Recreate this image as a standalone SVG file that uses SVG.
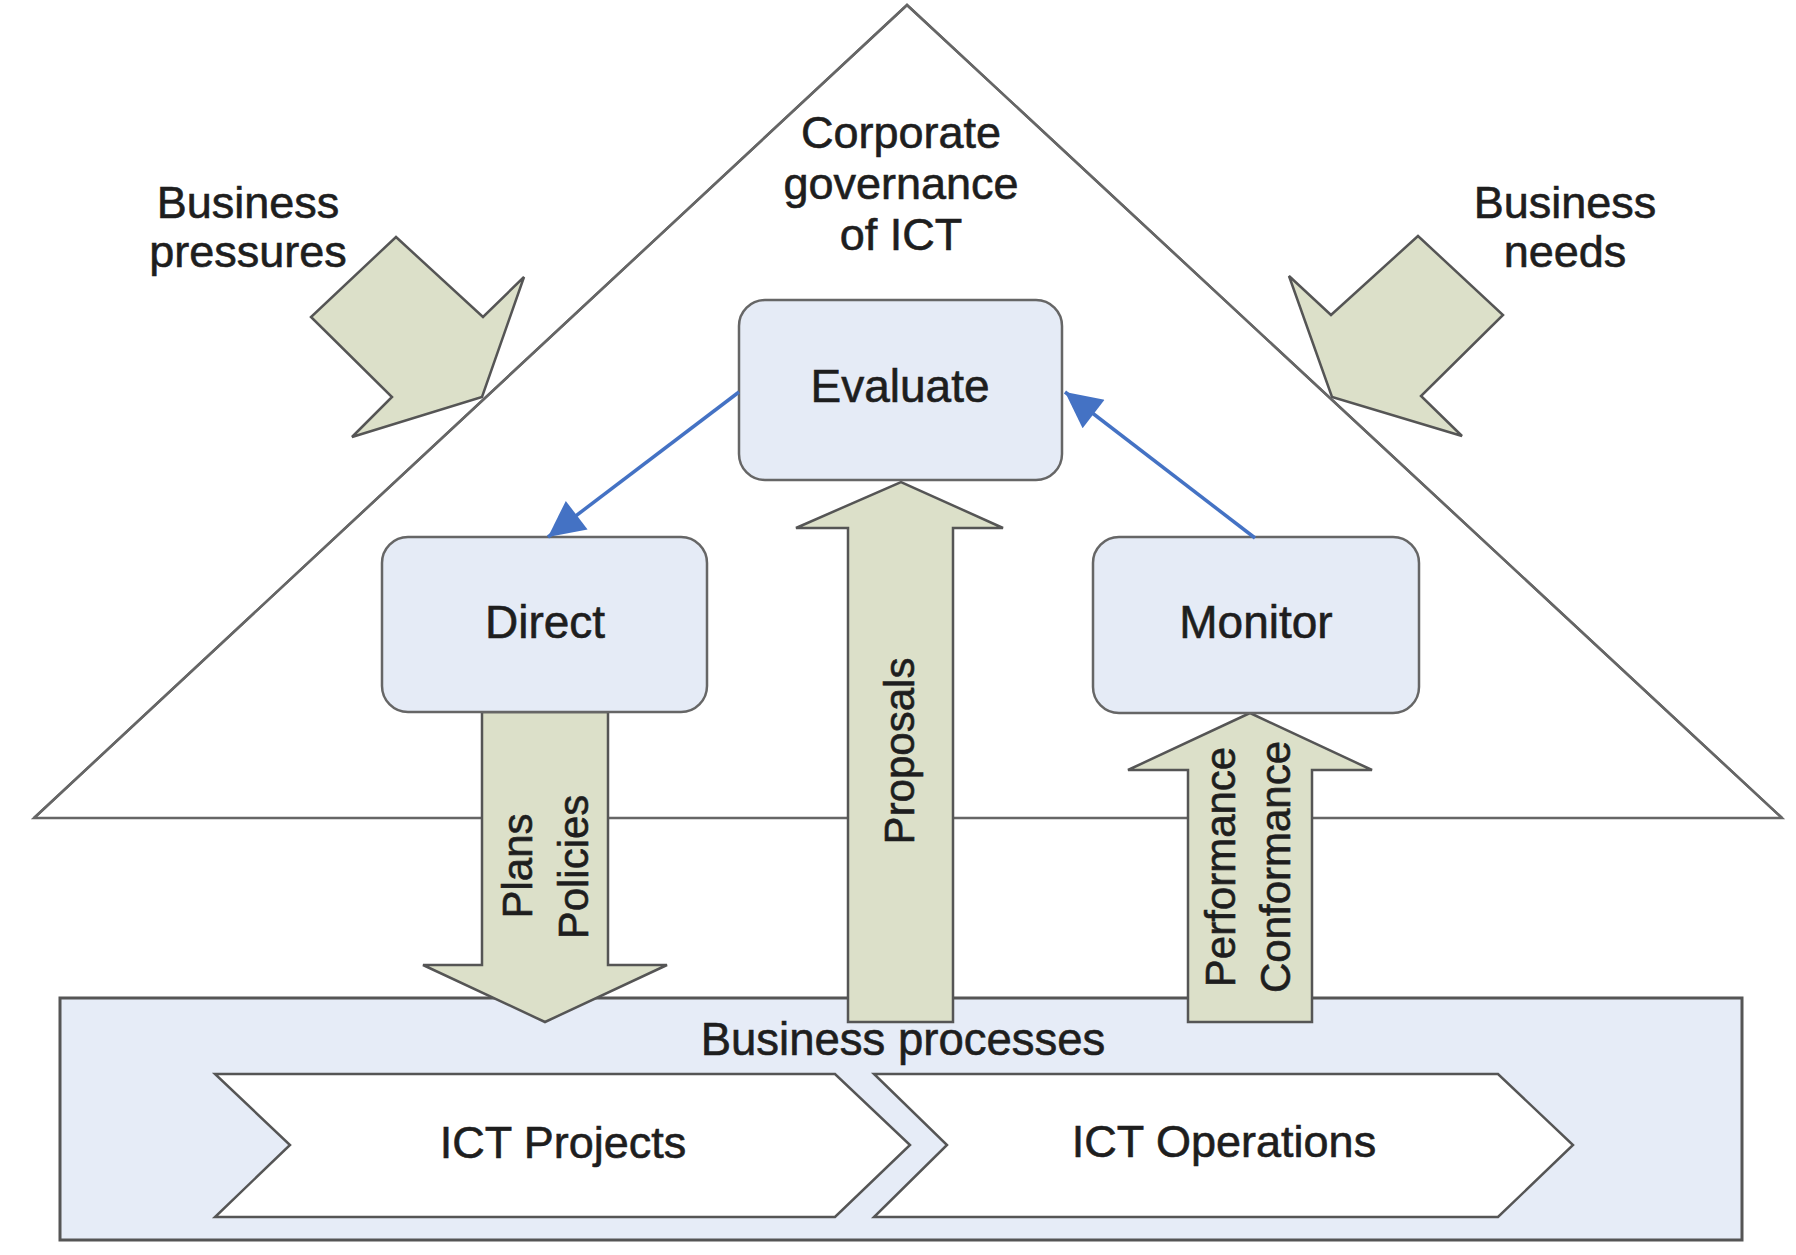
<svg xmlns="http://www.w3.org/2000/svg" width="1796" height="1255" viewBox="0 0 1796 1255">
<defs>
<style>
text{font-family:"Liberation Sans",Arial,Helvetica,sans-serif;fill:#1e1e1e;stroke:#1e1e1e;stroke-width:0.6;}
.lbl{font-size:45px;text-anchor:middle;}
.rot{font-size:42px;text-anchor:middle;}
.box{fill:#e5ebf6;stroke:#666;stroke-width:2.5;}
.blk{fill:#dce0c9;stroke:#555;stroke-width:2.5;stroke-linejoin:miter;}
.tri{fill:#fff;stroke:#666;stroke-width:2.5;}
.edge{fill:none;stroke:#4472c4;stroke-width:3.5;}
</style>
<marker id="ah" viewBox="0 0 10 10" refX="10" refY="5" markerWidth="44" markerHeight="36" markerUnits="userSpaceOnUse" orient="auto">
<path d="M0,0 L10,5 L0,10 z" fill="#4472c4"/>
</marker>
</defs>
<rect width="1796" height="1255" fill="#fff"/>

<g id="governance-triangle">
<polygon class="tri" points="907,5 1782,818 34,818"/>
</g>

<g id="business-pressures">
<polygon class="blk" points="396,237 483,317 524,277 482,397 352,437 392,397 311,317"/>
<text class="lbl" x="248" y="218">Business</text>
<text class="lbl" x="248" y="267">pressures</text>
</g>

<g id="business-needs">
<polygon class="blk" points="1418,236 1331,315 1289,276 1332,397 1462,436 1421,396 1503,315"/>
<text class="lbl" x="1565" y="218">Business</text>
<text class="lbl" x="1565" y="267">needs</text>
</g>

<polyline points="34,818 907,5 1782,818" fill="none" stroke="#666" stroke-width="2.5"/>

<g id="title">
<text class="lbl" x="901" y="148">Corporate</text>
<text class="lbl" x="901" y="199">governance</text>
<text class="lbl" x="901" y="250">of ICT</text>
</g>

<g id="business-processes">
<rect x="60" y="998" width="1682" height="242" fill="#e6ecf7" stroke="#555" stroke-width="3"/>
<text class="lbl" x="903" y="1055" style="font-size:45.5px">Business processes</text>
</g>

<g id="ict-projects">
<polygon points="215,1074 835,1074 910,1145 835,1217 215,1217 290,1145" fill="#fff" stroke="#555" stroke-width="2.5"/>
<text class="lbl" x="563" y="1158" style="font-size:45px">ICT Projects</text>
</g>

<g id="ict-operations">
<polygon points="874,1074 1498,1074 1573,1145 1498,1217 874,1217 947,1145" fill="#fff" stroke="#555" stroke-width="2.5"/>
<text class="lbl" x="1224" y="1157" style="font-size:45px">ICT Operations</text>
</g>

<g id="plans-policies">
<polygon class="blk" points="482,712 608,712 608,965 667,965 545,1022 423,965 482,965"/>
<text class="rot" transform="translate(532,866) rotate(-90)">Plans</text>
<text class="rot" transform="translate(588,867) rotate(-90)">Policies</text>
</g>

<g id="proposals">
<polygon class="blk" points="848,1022 848,528 796,528 901,482 1003,528 953,528 953,1022"/>
<text class="rot" transform="translate(914,751) rotate(-90)">Proposals</text>
</g>

<g id="performance-conformance">
<polygon class="blk" points="1188,1022 1188,770 1128,770 1250,713 1372,770 1312,770 1312,1022"/>
<text class="rot" transform="translate(1235,867) rotate(-90)">Performance</text>
<text class="rot" transform="translate(1290,867) rotate(-90)">Conformance</text>
</g>

<g id="evaluate">
<rect class="box" x="739" y="300" width="323" height="180" rx="26" ry="26"/>
<text class="lbl" x="900" y="402" style="font-size:46px">Evaluate</text>
</g>

<g id="direct">
<rect class="box" x="382" y="537" width="325" height="175" rx="26" ry="26"/>
<text class="lbl" x="545" y="638" style="font-size:46px">Direct</text>
</g>

<g id="monitor">
<rect class="box" x="1093" y="537" width="326" height="176" rx="26" ry="26"/>
<text class="lbl" x="1256" y="638" style="font-size:46px">Monitor</text>
</g>

<g id="connectors">
<line class="edge" x1="739" y1="392" x2="548" y2="537" marker-end="url(#ah)"/>
<line class="edge" x1="1255" y1="538" x2="1065" y2="392" marker-end="url(#ah)"/>
</g>
</svg>
